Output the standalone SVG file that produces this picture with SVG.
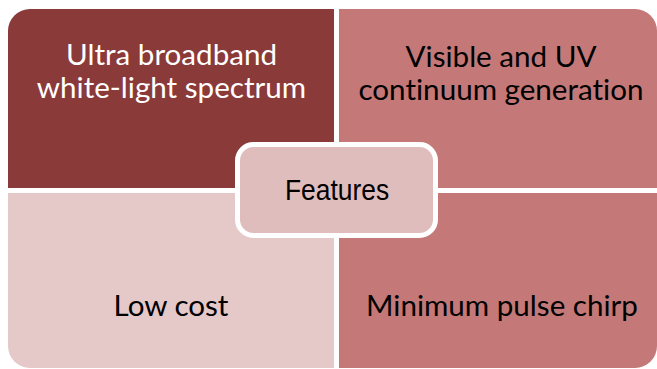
<svg xmlns="http://www.w3.org/2000/svg" width="657" height="369" viewBox="0 0 657 369">
<style>
.t{font-family:Lato,"Liberation Sans",Arial,sans-serif;font-size:29.6px;text-anchor:middle;font-variant-ligatures:none}
.c{font-family:"Liberation Sans",Arial,sans-serif;font-size:30px;text-anchor:middle}
</style>
<rect width="657" height="369" fill="#ffffff"/>
<g id="q-tl">
<path d="M8,188 V31 A22,22 0 0 1 30,9 H334 V188 Z" fill="#8B3A3A"/>
<text class="t" x="171.5" y="65" fill="#ffffff">Ultra broadband</text>
<text class="t" x="171.5" y="98" fill="#ffffff">white-light spectrum</text>
</g>
<g id="q-tr">
<path d="M339,9 H635 A22,22 0 0 1 657,31 V188 H339 Z" fill="#C47877"/>
<text class="t" x="501" y="67" fill="#000000">Visible and UV</text>
<text class="t" x="501" y="100" fill="#000000">continuum generation</text>
</g>
<g id="q-bl">
<path d="M8,193 H334 V368 H30 A22,22 0 0 1 8,346 Z" fill="#E5C8C8"/>
<text class="t" x="171" y="316" fill="#000000">Low cost</text>
</g>
<g id="q-br">
<path d="M339,193 H657 V346 A22,22 0 0 1 635,368 H339 Z" fill="#C47877"/>
<text class="t" x="502" y="316" fill="#000000">Minimum pulse chirp</text>
</g>
<g id="center">
<rect x="237.5" y="144.5" width="198" height="91" rx="16" fill="#E0BDBD" stroke="#ffffff" stroke-width="5"/>
<text class="c" x="0" y="200" fill="#000000" transform="translate(337 0) scale(0.88 1)">Features</text>
</g>
</svg>
